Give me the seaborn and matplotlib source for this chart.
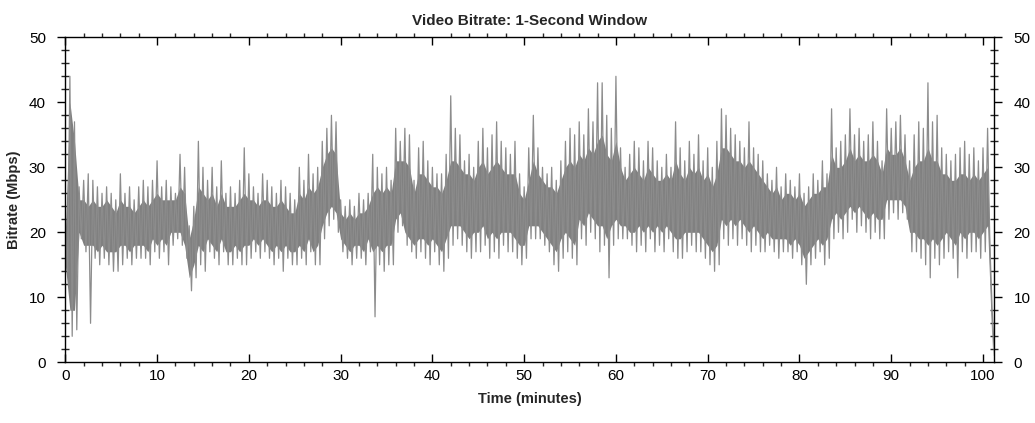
import numpy as np
import pandas as pd
import seaborn as sns
import matplotlib.pyplot as plt
from matplotlib.ticker import MultipleLocator

# --- data: bitrate envelope, one sample every 0.5 min ---
minutes = np.arange(0, 101.01, 0.5)

# outer spikes (max / min of the 1 s series)
peak_mbps = [
    22, 44, 37, 27, 28, 29, 28, 27, 26, 27,   # 0 - 4.5
    26, 25, 29, 26, 27, 25, 27, 28, 27, 28,   # 5 - 9.5
    31, 27, 28, 27, 26, 32, 30, 21, 24, 34,   # 10 - 14.5
    30, 28, 30, 27, 31, 26, 27, 26, 28, 33,   # 15 - 19.5
    29, 27, 26, 29, 28, 27, 26, 28, 27, 26,   # 20 - 24.5
    25, 30, 28, 32, 29, 30, 34, 36, 38, 37,   # 25 - 29.5
    25, 24, 25, 24, 26, 25, 26, 32, 30, 29,   # 30 - 34.5
    30, 28, 36, 34, 36, 35, 28, 33, 34, 31,   # 35 - 39.5
    30, 29, 29, 32, 41, 36, 35, 31, 32, 30,   # 40 - 44.5
    34, 36, 33, 35, 37, 34, 33, 32, 34, 29,   # 45 - 49.5
    27, 33, 38, 33, 30, 29, 30, 28, 31, 34,   # 50 - 54.5
    36, 35, 37, 35, 39, 37, 43, 43, 38, 36,   # 55 - 59.5
    44, 33, 30, 32, 34, 33, 31, 34, 33, 31,   # 60 - 64.5
    30, 32, 30, 37, 33, 31, 34, 32, 35, 31,   # 65 - 69.5
    33, 30, 34, 39, 38, 36, 35, 34, 33, 37,   # 70 - 74.5
    33, 32, 31, 29, 28, 30, 27, 29, 28, 27,   # 75 - 79.5
    29, 26, 27, 29, 28, 31, 29, 39, 33, 34,   # 80 - 84.5
    35, 39, 35, 36, 34, 35, 37, 34, 31, 39,   # 85 - 89.5
    36, 37, 38, 35, 31, 35, 37, 36, 43, 37,   # 90 - 94.5
    38, 33, 32, 31, 32, 33, 34, 32, 33, 31,   # 95 - 99.5
    33, 36, 8,                                # 100 - 101
]

trough_mbps = [
    14, 4, 5, 19, 17, 6, 16, 15, 16, 15,      # 0 - 4.5
    14, 14, 15, 16, 15, 16, 16, 16, 15, 17,   # 5 - 9.5
    16, 17, 15, 18, 19, 18, 16, 11, 13, 15,   # 10 - 14.5
    14, 17, 16, 15, 17, 15, 15, 16, 15, 15,   # 15 - 19.5
    16, 17, 16, 17, 16, 15, 16, 14, 16, 15,   # 20 - 24.5
    15, 16, 15, 17, 15, 15, 19, 21, 22, 20,   # 25 - 29.5
    17, 16, 15, 16, 16, 15, 17, 7, 15, 14,    # 30 - 34.5
    15, 15, 20, 21, 18, 17, 16, 17, 16, 15,   # 35 - 39.5
    17, 15, 14, 16, 18, 19, 18, 17, 16, 17,   # 40 - 44.5
    17, 18, 16, 17, 16, 18, 17, 17, 16, 15,   # 45 - 49.5
    16, 19, 19, 19, 18, 17, 15, 14, 16, 17,   # 50 - 54.5
    16, 15, 19, 18, 20, 19, 17, 18, 13, 18,   # 55 - 59.5
    19, 19, 19, 18, 17, 18, 17, 19, 17, 18,   # 60 - 64.5
    17, 19, 17, 16, 16, 17, 18, 17, 17, 16,   # 65 - 69.5
    15, 14, 15, 19, 18, 19, 18, 19, 18, 17,   # 70 - 74.5
    18, 17, 17, 18, 17, 16, 17, 17, 16, 17,   # 75 - 79.5
    15, 12, 15, 16, 17, 15, 16, 19, 20, 19,   # 80 - 84.5
    20, 22, 20, 21, 20, 19, 20, 19, 19, 22,   # 85 - 89.5
    23, 22, 23, 22, 17, 17, 16, 15, 13, 16,   # 90 - 94.5
    15, 16, 17, 16, 13, 17, 16, 17, 17, 16,   # 95 - 99.5
    17, 18, 1,                                # 100 - 101
]

# dense dark core of the trace
core_hi = [
    20, 40, 34, 25, 25, 24, 25, 24, 24, 25,
    24, 23, 25, 24, 24, 23, 24, 25, 24, 25,
    26, 25, 25, 25, 25, 27, 26, 19, 22, 27,
    26, 25, 26, 24, 26, 24, 24, 24, 25, 26,
    25, 25, 24, 25, 25, 24, 24, 25, 24, 23,
    23, 26, 25, 27, 26, 27, 30, 32, 33, 32,
    23, 22, 23, 22, 23, 23, 24, 26, 27, 26,
    27, 26, 31, 31, 31, 30, 26, 29, 29, 28,
    27, 27, 26, 28, 31, 31, 30, 29, 29, 28,
    30, 31, 29, 30, 31, 30, 29, 29, 29, 26,
    25, 28, 31, 29, 28, 27, 27, 26, 28, 30,
    31, 30, 32, 31, 33, 32, 34, 35, 32, 31,
    34, 30, 28, 29, 30, 29, 28, 30, 29, 28,
    28, 29, 28, 31, 29, 28, 30, 29, 30, 28,
    29, 27, 29, 33, 33, 32, 31, 31, 30, 31,
    30, 29, 28, 27, 26, 27, 25, 26, 26, 25,
    26, 24, 25, 26, 26, 27, 27, 32, 30, 30,
    31, 33, 31, 32, 31, 31, 32, 31, 29, 33,
    32, 32, 33, 31, 28, 30, 31, 31, 33, 31,
    31, 29, 29, 28, 28, 29, 29, 28, 29, 28,
    29, 30, 5,
]

core_lo = [
    15, 8, 8, 20, 18, 18, 18, 17, 18, 17,
    17, 17, 18, 18, 17, 18, 18, 18, 17, 19,
    18, 19, 18, 20, 20, 20, 18, 13, 15, 18,
    17, 19, 18, 17, 19, 17, 17, 18, 17, 18,
    18, 19, 18, 19, 18, 17, 18, 17, 18, 17,
    17, 18, 17, 19, 17, 18, 21, 23, 24, 23,
    19, 18, 17, 18, 18, 17, 19, 17, 18, 17,
    18, 18, 22, 23, 20, 19, 18, 19, 19, 18,
    19, 18, 17, 19, 21, 21, 21, 20, 19, 20,
    20, 21, 19, 20, 19, 20, 20, 20, 19, 18,
    18, 21, 21, 21, 20, 19, 18, 17, 19, 20,
    19, 18, 22, 21, 23, 22, 21, 21, 19, 21,
    22, 21, 21, 20, 20, 21, 20, 21, 20, 21,
    20, 21, 20, 19, 19, 20, 20, 20, 20, 19,
    18, 17, 18, 22, 21, 22, 21, 22, 21, 20,
    21, 20, 19, 20, 19, 19, 19, 19, 18, 19,
    18, 16, 17, 18, 19, 18, 19, 22, 23, 22,
    23, 24, 23, 24, 23, 22, 23, 22, 22, 25,
    25, 25, 25, 24, 20, 20, 19, 19, 18, 19,
    18, 19, 20, 19, 18, 20, 19, 20, 20, 19,
    20, 21, 2,
]

# zig-zag between peak and trough so the trace looks like the dense 1 s series
t = np.column_stack([minutes, minutes + 0.25]).ravel()
v = np.column_stack([peak_mbps, trough_mbps]).ravel()
df = pd.DataFrame({'time': t, 'bitrate': v})

# --- plot ---
sns.set_theme(style='white')
plt.rcParams['font.family'] = ['Liberation Sans', 'DejaVu Sans']

fig = plt.figure(figsize=(10.35, 4.23), dpi=100)
ax = fig.add_axes([0.0631, 0.1435, 0.8973, 0.7683])

sns.lineplot(data=df, x='time', y='bitrate', ax=ax, color='#8c8c8c',
             linewidth=0.9, estimator=None, sort=False)
ax.fill_between(minutes, core_lo, core_hi, color='#808080', linewidth=0)

ax.set_xlim(0, 101.2)
ax.set_ylim(0, 50)
ax.xaxis.set_major_locator(MultipleLocator(10))
ax.xaxis.set_minor_locator(MultipleLocator(2))
ax.yaxis.set_major_locator(MultipleLocator(10))
ax.yaxis.set_minor_locator(MultipleLocator(2))

for s in ax.spines.values():
    s.set_color('black')
    s.set_linewidth(1.0)

ax.tick_params(axis='x', which='major', direction='in', length=6, width=1,
               top=True, bottom=True, labelsize=11, pad=5, colors='black')
ax.tick_params(axis='x', which='minor', direction='out', length=3, width=1,
               top=True, bottom=True)
ax.tick_params(axis='y', which='major', direction='out', length=6, width=1,
               left=True, right=True, labelleft=True, labelright=True,
               labelsize=11, pad=8, colors='black')
ax.tick_params(axis='y', which='minor', direction='inout', length=6, width=1,
               left=True, right=True)

ax.set_title('Video Bitrate: 1-Second Window', fontsize=11, fontweight='bold', pad=9)
ax.set_xlabel('Time (minutes)', fontsize=10.5, fontweight='bold', labelpad=6)
ax.set_ylabel('Bitrate (Mbps)', fontsize=10.5, fontweight='bold', labelpad=6)

fig.savefig('out.png', dpi=100)
